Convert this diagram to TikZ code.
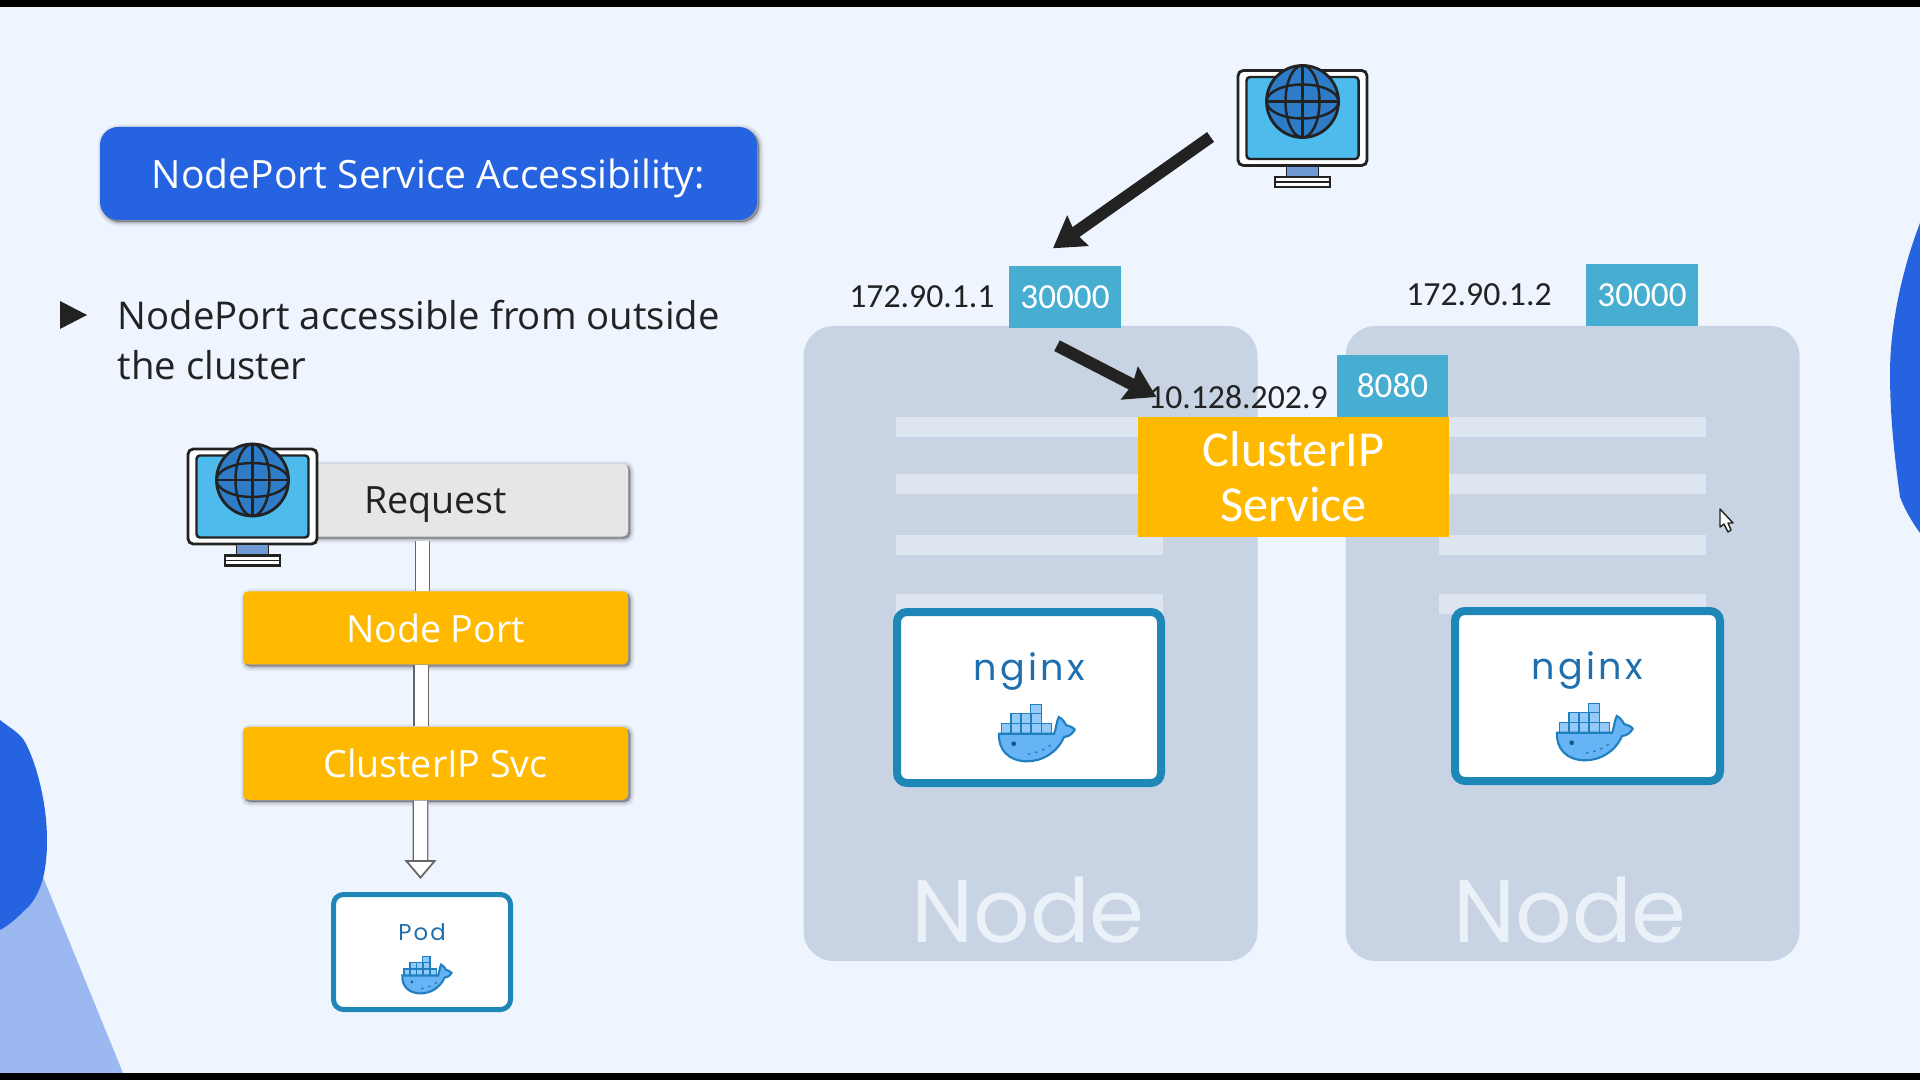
\documentclass[tikz,border=0pt]{standalone}
\usepackage{fontspec}
\usepackage{xcolor}
\usepackage{tikz}
\usetikzlibrary{
  positioning, arrows.meta, calc
}
\setmainfont{Open Sans}
\newfontfamily\labelfont{Carlito}
\newfontfamily\geofont{Poppins}
\newfontfamily\tagfont[LetterSpace=9]{Poppins}
\definecolor{slidebg}{HTML}{EEF5FF}
\definecolor{blobblue}{HTML}{2563E0}
\definecolor{bloblight}{HTML}{9BB8F0}
\definecolor{nodegray}{HTML}{C8D4E4}
\definecolor{barwhite}{HTML}{DDE6F0}
\definecolor{nodetext}{HTML}{EBF1F8}
\definecolor{portblue}{HTML}{47ADD1}
\definecolor{svcorange}{HTML}{FFB900}
\definecolor{podframe}{HTML}{1E87B8}
\definecolor{podtext}{HTML}{1F6FAE}
\definecolor{whalefill}{HTML}{66B3F5}
\definecolor{whaleline}{HTML}{1F7FBF}
\definecolor{screenblue}{HTML}{4DBBEC}
\definecolor{globeblue}{HTML}{2E7CC8}
\definecolor{standblue}{HTML}{6F9AD6}
\definecolor{inkdark}{HTML}{222222}
\definecolor{reqgray}{HTML}{E6E6E6}

\begin{document}
\begin{tikzpicture}[
      >=Stealth,
      boxshadow/.style={
        preaction={draw=black, fill=black, line width=0.09cm, opacity=0.06, transform canvas={xshift=0.02cm, yshift=-0.02cm}},
        preaction={draw=black, fill=black, line width=0.05cm, opacity=0.10, transform canvas={xshift=0.02cm, yshift=-0.02cm}},
        preaction={draw=black, fill=black, line width=0.015cm, opacity=0.14, transform canvas={xshift=0.02cm, yshift=-0.02cm}}},
      banner/.style={rectangle, rounded corners=0.18cm, fill=blobblue, text=white, minimum width=6.57cm, minimum height=0.93cm,
        text depth=0pt, font=\fontsize{11.1}{13}\selectfont, boxshadow},
      flowbox/.style={rectangle, rounded corners=1.5pt, fill=#1, minimum width=3.85cm, minimum height=0.73cm, inner sep=0pt,
        text depth=0pt, font=\fontsize{10.7}{12}\selectfont, boxshadow},
      workernode/.style={rectangle, rounded corners=0.3cm, fill=nodegray, minimum width=4.54cm, minimum height=6.35cm},
      barline/.style={rectangle, fill=barwhite, minimum width=2.67cm, minimum height=0.2cm, inner sep=0pt},
      portbox/.style={rectangle, fill=portblue, text=white, minimum width=1.12cm, minimum height=0.62cm, inner sep=0pt,
        font=\labelfont\fontsize{10}{12}\selectfont},
      iplabel/.style={inner sep=0pt, text=inkdark, font=\labelfont\fontsize{9.6}{12}\selectfont},
      nodeword/.style={inner sep=0pt, text=nodetext, font=\geofont\fontsize{25.2}{28}\selectfont},
      podbox/.style={rectangle, rounded corners=0.1cm, draw=podframe, fill=white, line width=#1},
      tagword/.style={inner sep=0pt, text=podtext},
      callarrow/.style={->, line width=0.12cm, color=inkdark, >={Stealth[length=0.3cm, width=0.36cm, inset=0.03cm]}},
      pipe/.style={draw=black!60, line width=0.4pt, double=white, double distance=0.13cm},
      pipetip/.style={-{Triangle[fill=white, length=0.19cm, width=0.32cm]}, draw=black!60, line width=0.5pt},
      monitor/.pic={
        \node[rectangle, rounded corners=1.5pt, draw=inkdark, fill=white, line width=0.8pt, minimum width=1.29cm, minimum height=0.95cm, inner sep=0pt] (-frame) at (0,0) {};
        \node[rectangle, rounded corners=1pt, draw=inkdark, fill=screenblue, line width=0.7pt, minimum width=1.12cm, minimum height=0.82cm, inner sep=0pt] at (0,0) {};
        \draw[draw=inkdark, fill=standblue, line width=0.4pt] (-0.16,-0.48) rectangle (0.16,-0.59);
        \draw[draw=inkdark, fill=white, line width=0.7pt] (-0.275,-0.59) rectangle (0.275,-0.69);
        \draw[draw=inkdark, line width=0.4pt] (-0.275,-0.64) -- (0.275,-0.64);
        \draw[draw=inkdark, fill=globeblue, line width=0.8pt] (0,0.165) circle (0.36);
        \draw[draw=inkdark, line width=0.7pt] (0,0.165) ellipse (0.17 and 0.36);
        \draw[draw=inkdark, line width=0.7pt] (0,0.165) ellipse (0.36 and 0.17);
        \draw[draw=inkdark, line width=0.7pt] (-0.36,0.165) -- (0.36,0.165);
        \draw[draw=inkdark, line width=0.7pt] (0,-0.195) -- (0,0.525);
      },
      whale/.pic={
        \draw[draw=whaleline, fill=whalefill!70, line width=0.4pt] (-0.067,0.193) rectangle (0.043,0.283);
        \draw[draw=whaleline, fill=whalefill!70, line width=0.4pt] (-0.26,0.093) rectangle (-0.16,0.193);
        \draw[draw=whaleline, fill=whalefill!70, line width=0.4pt] (-0.16,0.093) rectangle (-0.06,0.193);
        \draw[draw=whaleline, fill=whalefill!70, line width=0.4pt] (-0.06,0.093) rectangle (0.043,0.193);
        \draw[draw=whaleline, fill=whalefill!70, line width=0.4pt] (-0.357,-0.007) rectangle (-0.26,0.093);
        \draw[draw=whaleline, fill=whalefill!70, line width=0.4pt] (-0.26,-0.007) rectangle (-0.16,0.093);
        \draw[draw=whaleline, fill=whalefill!70, line width=0.4pt] (-0.16,-0.007) rectangle (-0.06,0.093);
        \draw[draw=whaleline, fill=whalefill!70, line width=0.4pt] (-0.06,-0.007) rectangle (0.043,0.093);
        \draw[draw=whaleline, fill=whalefill!70, line width=0.4pt] (0.043,-0.007) rectangle (0.143,0.093);
        \draw[draw=whaleline, fill=whalefill, line width=0.6pt] (-0.38,-0.007) -- (0.17,-0.007)
          .. controls (0.19,0.03) and (0.19,0.1) .. (0.217,0.16)
          .. controls (0.26,0.14) and (0.28,0.1) .. (0.29,0.08)
          .. controls (0.32,0.07) and (0.36,0.06) .. (0.377,0.033)
          .. controls (0.34,-0.03) and (0.3,-0.035) .. (0.27,-0.04)
          .. controls (0.2,-0.2) and (0.05,-0.283) .. (-0.1,-0.283)
          .. controls (-0.28,-0.283) and (-0.39,-0.17) .. (-0.38,-0.007) -- cycle;
        \fill[whaleline!70!black] (-0.233,-0.107) circle (0.024);
        \draw[draw=whaleline, line width=0.4pt, dash pattern=on 0.7pt off 1.4pt] (-0.09,-0.21) .. controls (0.0,-0.2) and (0.1,-0.16) .. (0.16,-0.1);
      }
    ]
    \useasboundingbox (0,0) rectangle (19.2,-10.8);
    % Slide background
    \fill[slidebg] (0,0) rectangle (19.2,-10.8);
    \fill[bloblight] (0.43,-8.77) -- (1.23,-10.73) -- (0,-10.73) -- (0,-9.3) -- cycle;
    \fill[blobblue] (0,-7.2) .. controls (0.1,-7.28) and (0.2,-7.33) .. (0.25,-7.42)
      .. controls (0.35,-7.6) and (0.47,-8.0) .. (0.47,-8.4)
      .. controls (0.47,-8.7) and (0.42,-8.9) .. (0.3,-9.05)
      .. controls (0.2,-9.15) and (0.1,-9.25) .. (0,-9.3) -- cycle;
    \fill[blobblue] (19.2,-2.23) .. controls (19.0,-2.75) and (18.9,-3.3) .. (18.9,-3.73)
      .. controls (18.9,-4.2) and (18.95,-4.6) .. (19.0,-4.97)
      .. controls (19.05,-5.1) and (19.12,-5.22) .. (19.2,-5.33) -- cycle;
    \fill[black] (0,0) rectangle (19.2,-0.07);
    \fill[black] (0,-10.73) rectangle (19.2,-10.8);
    % Left column: heading and bullet
    \node[banner] (title) at (4.285,-1.735) {NodePort Service Accessibility:};
    \fill[inkdark] (0.6,-3.01) -- (0.87,-3.15) -- (0.6,-3.29) -- cycle;
    \node[anchor=west, inner sep=0pt, align=left, text=inkdark, font=\fontsize{10.9}{14.2}\selectfont] (bullet) at (1.17,-3.4)
      {NodePort accessible from outside\\the cluster};
    % Left column: request flow
    \node[flowbox=reqgray, text=inkdark] (request) at (4.355,-5.0) {Request};
    \node[flowbox=svcorange, text=white, below=0.535cm of request] (nport) {Node Port};
    \node[flowbox=svcorange, text=white, below=0.61cm of nport] (nsvc) {ClusterIP Svc};
    \node[podbox=0.05cm, minimum width=1.77cm, minimum height=1.15cm] (pod) at (4.22,-9.52) {};
    \node[tagword, font=\tagfont\fontsize{6.5}{8}\selectfont] (podtag) at (4.22,-9.32) {Pod};
    \pic[scale=0.65] at (4.27,-9.75) {whale};
    \pic (monL) at (2.525,-4.965) {monitor};
    \coordinate (tip) at ([xshift=-0.015cm, yshift=0.13cm]pod.north);
    \coordinate (neck) at ([yshift=0.19cm]tip);
    \draw[pipe] ([xshift=-0.13cm, yshift=-0.04cm]request.south) -- ([xshift=-0.13cm]nport.north);
    \draw[pipe] ([xshift=-0.145cm]nport.south) -- ([xshift=-0.145cm]nsvc.north);
    \draw[pipe] ([xshift=-0.15cm]nsvc.south) -- (neck);
    \draw[pipetip] (neck) -- (tip);
    % Node 1
    \node[workernode] (worker1) at (10.305,-6.435) {};
    \node[barline] (bar1a) at (10.295,-4.27) {};
    \node[barline, below=0.36cm of bar1a] (bar1b) {};
    \node[barline, below=0.39cm of bar1b] (bar1c) {};
    \node[barline, below=0.38cm of bar1c] (bar1d) {};
    \node[podbox=0.08cm, minimum width=2.64cm, minimum height=1.71cm] (pod1) at (10.29,-6.975) {};
    \node[tagword, font=\tagfont\fontsize{10.4}{12}\selectfont] (tag1) at (10.29,-6.72) {nginx};
    \pic at (10.37,-7.33) {whale};
    \node[nodeword] (word1) at (10.28,-9.1) {Node};
    % Node 2
    \node[workernode] (worker2) at (15.725,-6.435) {};
    \node[barline] (bar2a) at (15.725,-4.27) {};
    \node[barline, below=0.36cm of bar2a] (bar2b) {};
    \node[barline, below=0.39cm of bar2b] (bar2c) {};
    \node[barline, below=0.38cm of bar2c] (bar2d) {};
    \node[podbox=0.08cm, minimum width=2.65cm, minimum height=1.70cm] (pod2) at (15.875,-6.96) {};
    \node[tagword, font=\tagfont\fontsize{10.4}{12}\selectfont] (tag2) at (15.87,-6.71) {nginx};
    \pic at (15.95,-7.32) {whale};
    \node[nodeword] (word2) at (15.7,-9.1) {Node};
    % Ports and addresses
    \node[portbox] (port1) at (10.65,-2.97) {30000};
    \node[iplabel, left=0.13cm of port1] (ip1) {172.90.1.1};
    \node[portbox] (port2) at (16.42,-2.95) {30000};
    \node[iplabel, left=0.33cm of port2] (ip2) {172.90.1.2};
    \node[rectangle, fill=svcorange, text=white, minimum width=3.11cm, minimum height=1.2cm, inner sep=0pt, align=center,
      font=\labelfont\fontsize{14.3}{15.6}\selectfont] (csvc) at (12.935,-4.77) {ClusterIP\\Service};
    \node[portbox, minimum width=1.11cm] (port3) at (13.925,-3.86) {8080};
    \node[iplabel, left=0.08cm of port3, yshift=-0.11cm] (ip3) {10.128.202.9};
    % Outside client
    \pic (monR) at (13.025,-1.18) {monitor};
    \draw[callarrow] ([xshift=-0.26cm, yshift=-0.19cm]monR-frame.west) -- ([xshift=-0.12cm, yshift=0.17cm]port1.north);
    \draw[callarrow] ([xshift=-0.08cm, yshift=-0.17cm]port1.south) -- ([xshift=0.09cm]ip3.west);
    % Mouse pointer
    \draw[draw=inkdark, fill=white, line width=0.4pt, line join=round] (17.2,-5.09) -- (17.2,-5.27) -- (17.24,-5.24) -- (17.28,-5.32) -- (17.31,-5.3) -- (17.28,-5.23) -- (17.33,-5.23) -- cycle;
    \end{tikzpicture}
\end{document}
